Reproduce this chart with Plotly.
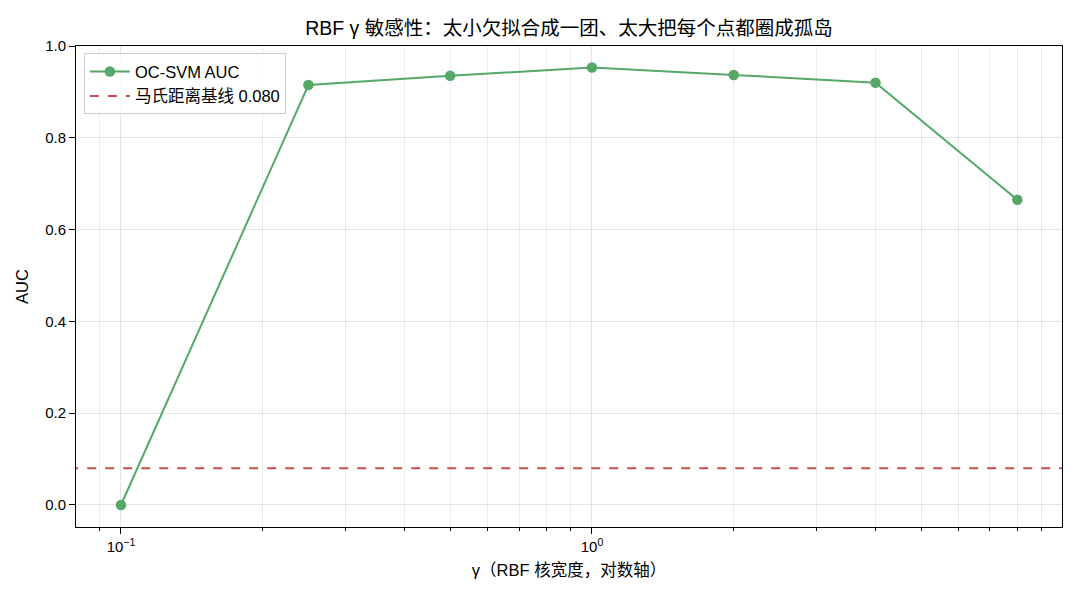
import plotly.graph_objects as go

gammas = [0.1, 0.25, 0.5, 1.0, 2.0, 4.0, 8.0]
auc = [0.0, 0.915, 0.935, 0.953, 0.937, 0.920, 0.665]
baseline = 0.080
x_tickvals = [0.1, 1.0]
x_ticktext = ["10<sup>−1</sup>", "10<sup>0</sup>"]
y_tickvals = [0.0, 0.2, 0.4, 0.6, 0.8, 1.0]

FONT = "Liberation Sans, Arial, Noto Sans CJK SC, sans-serif"
GREEN = "#55a868"
RED = "#c44e52"

fig = go.Figure()
fig.add_trace(go.Scatter(
    x=gammas, y=auc, mode="lines+markers", name="OC-SVM AUC",
    line=dict(color=GREEN, width=2),
    marker=dict(color=GREEN, size=10.5),
))
fig.add_trace(go.Scatter(
    x=[0.05, 20], y=[baseline, baseline], mode="lines",
    name=f"马氏距离基线 {baseline:.3f}",
    line=dict(color=RED, width=2, dash="dash"),
))

minor_vals = [0.08, 0.09] + [v * d for d in [0.1, 1] for v in range(2, 10)]

fig.update_layout(
    width=1080, height=600,
    margin=dict(l=76, r=18, t=46, b=73),
    paper_bgcolor="white", plot_bgcolor="white",
    font=dict(family=FONT, size=16, color="black"),
    title=dict(text="RBF γ 敏感性：太小欠拟合成一团、太大把每个点都圈成孤岛",
               x=0.5, xanchor="center", xref="paper",
               y=1 - 28 / 600, yanchor="middle", yref="container",
               font=dict(size=19.5)),
    showlegend=True,
    legend=dict(x=0.008, y=0.985, xanchor="left", yanchor="top",
                bgcolor="rgba(255,255,255,0.8)", bordercolor="#cccccc",
                borderwidth=1, font=dict(size=16.5), itemwidth=40,
                tracegroupgap=2),
    xaxis=dict(
        type="log", range=[-1.0955, 0.998],
        tickvals=x_tickvals, ticktext=x_ticktext,
        ticks="outside", ticklen=6, tickcolor="black",
        tickfont=dict(size=15),
        showline=True, linecolor="black", linewidth=1, mirror=True,
        showgrid=True, gridcolor="rgba(0,0,0,0.1)", gridwidth=1,
        minor=dict(tickvals=minor_vals,
                   ticks="outside", ticklen=3, tickcolor="black",
                   showgrid=True, gridcolor="rgba(0,0,0,0.07)"),
        zeroline=False,
        title=dict(text="γ（RBF 核宽度，对数轴）", font=dict(size=16.5), standoff=10),
    ),
    yaxis=dict(
        range=[-0.048, 1.0],
        tickvals=y_tickvals, tickformat=".1f",
        ticks="outside", ticklen=6, tickcolor="black",
        tickfont=dict(size=15),
        showline=True, linecolor="black", linewidth=1, mirror=True,
        showgrid=True, gridcolor="rgba(0,0,0,0.1)",
        zeroline=False,
        title=dict(text="AUC", font=dict(size=16.5), standoff=12),
    ),
)

fig.write_html("out.html")
